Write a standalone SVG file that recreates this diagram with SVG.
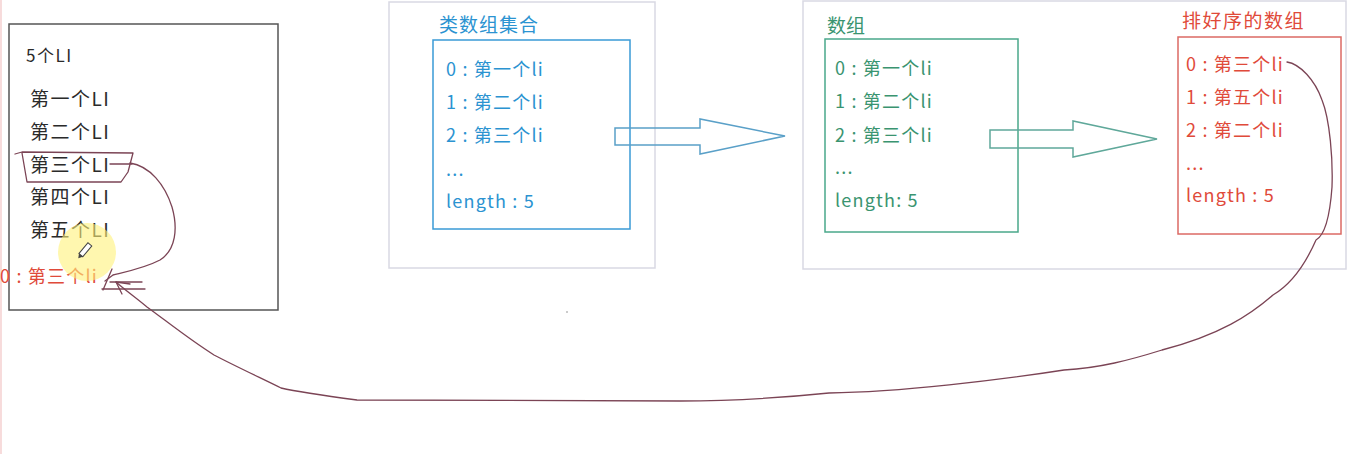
<svg xmlns="http://www.w3.org/2000/svg" width="1349" height="454" viewBox="0 0 1349 454">
<style>
text{font-family:"Noto Sans CJK SC","Microsoft YaHei",sans-serif;}
.blk{fill:#2a2a2a;font-size:19px;letter-spacing:1.5px;}
.blu{fill:#2b93d1;font-size:18px;letter-spacing:1.2px;}
.grn{fill:#3a9470;font-size:18px;letter-spacing:1.2px;}
.red{fill:#e04a3a;font-size:18px;letter-spacing:1.2px;}
.ttl{font-size:19px;letter-spacing:1px;}
.outer{fill:#fff;stroke:#d9d9e3;stroke-width:1.5;}
.ink{fill:none;stroke:#7b4455;stroke-width:1.3;stroke-linecap:round;stroke-linejoin:round;}
</style>
<rect width="1349" height="454" fill="#fff"/>
<line x1="1" y1="0" x2="1" y2="454" stroke="#f2c4c4" stroke-width="1.2"/>

<g id="node-li-list">
<rect x="9" y="24" width="269" height="286" fill="#fff" stroke="#555" stroke-width="1.5"/>
<text class="blk" x="26" y="62" style="font-size:17px">5个LI</text>
<text class="blk" x="30" y="106">第一个LI</text>
<text class="blk" x="30" y="139">第二个LI</text>
<text class="blk" x="30" y="172">第三个LI</text>
<text class="blk" x="30" y="204">第四个LI</text>
<text class="blk" x="30" y="237">第五个LI</text>
<text class="red" x="0" y="283">0 : 第三个li</text>
</g>

<g id="node-arraylike">
<rect class="outer" x="389" y="2" width="266" height="266"/>
<text class="blu ttl" x="439" y="32">类数组集合</text>
<rect x="433" y="40" width="197" height="189" fill="none" stroke="#3a9ad6" stroke-width="1.5"/>
<text class="blu" x="446" y="76">0 : 第一个li</text>
<text class="blu" x="446" y="109">1 : 第二个li</text>
<text class="blu" x="446" y="142">2 : 第三个li</text>
<text class="blu" x="446" y="176">...</text>
<text class="blu" x="446" y="208">length : 5</text>
</g>

<g id="node-array-container">
<rect class="outer" x="803" y="1" width="543" height="268"/>
</g>

<g id="node-array">
<text class="grn ttl" x="827" y="33" style="letter-spacing:0">数组</text>
<rect x="825" y="39" width="193" height="193" fill="none" stroke="#4aa88a" stroke-width="1.5"/>
<text class="grn" x="835" y="75">0 : 第一个li</text>
<text class="grn" x="835" y="108">1 : 第二个li</text>
<text class="grn" x="835" y="142">2 : 第三个li</text>
<text class="grn" x="835" y="174">...</text>
<text class="grn" x="835" y="207">length: 5</text>
</g>

<g id="node-sorted">
<text class="red ttl" x="1182" y="28" style="letter-spacing:1.5px">排好序的数组</text>
<rect x="1178" y="37" width="163" height="197" fill="none" stroke="#dc6a64" stroke-width="1.5"/>
<text class="red" x="1186" y="71">0 : 第三个li</text>
<text class="red" x="1186" y="104">1 : 第五个li</text>
<text class="red" x="1186" y="137">2 : 第二个li</text>
<text class="red" x="1186" y="170">...</text>
<text class="red" x="1186" y="202">length : 5</text>
</g>

<g id="connectors">
<polygon points="615,128 700,128 700,119 785,136 700,154 700,145 615,145" fill="none" stroke="#5aa0c8" stroke-width="1.5"/>
<polygon points="990,130 1073,130 1073,121 1157,139 1073,157 1073,148 990,148" fill="none" stroke="#5fa89a" stroke-width="1.5"/>
<path class="ink" d="M15,154 L22,152 L133,153 L128,172 L121,182 L27,182 L22,153"/>
<path class="ink" d="M110,164 L132,164"/>
<path class="ink" d="M130,163 C150,166 165,185 172,207 C178,228 176,250 160,260 C145,268 125,272 113,275 L105,281"/>
<path class="ink" d="M112,269 L103,290 M110,282 L142,282 M102,289 L145,289"/>
<path class="ink" d="M1287,62 C1300,64 1315,80 1322,100 C1330,120 1333,160 1332,187 C1330,215 1325,235 1316,240 C1305,265 1290,285 1273,295 C1250,315 1220,335 1162,350 C1130,360 1100,368 1064,370 C1000,380 900,392 829,393 C780,398 740,401 680,401 L357,400 C320,395 290,390 281,388 C265,380 235,366 214,355 C190,340 165,320 147,307 C135,297 125,290 116,282"/>
<path class="ink" d="M116,282 L122,294 M116,282 L130,284"/>
</g>

<g id="cursor">
<circle cx="87" cy="252" r="29" fill="#fff27a" opacity="0.6"/>
<g transform="translate(86,249) rotate(-50)">
<rect x="-8" y="-2.5" width="14" height="5" fill="#fff" stroke="#444" stroke-width="1"/>
<path d="M-8,-2.5 L-12,0 L-8,2.5 Z" fill="#444"/>
</g>
</g>
<circle cx="567" cy="312" r="0.8" fill="#888"/>
</svg>
